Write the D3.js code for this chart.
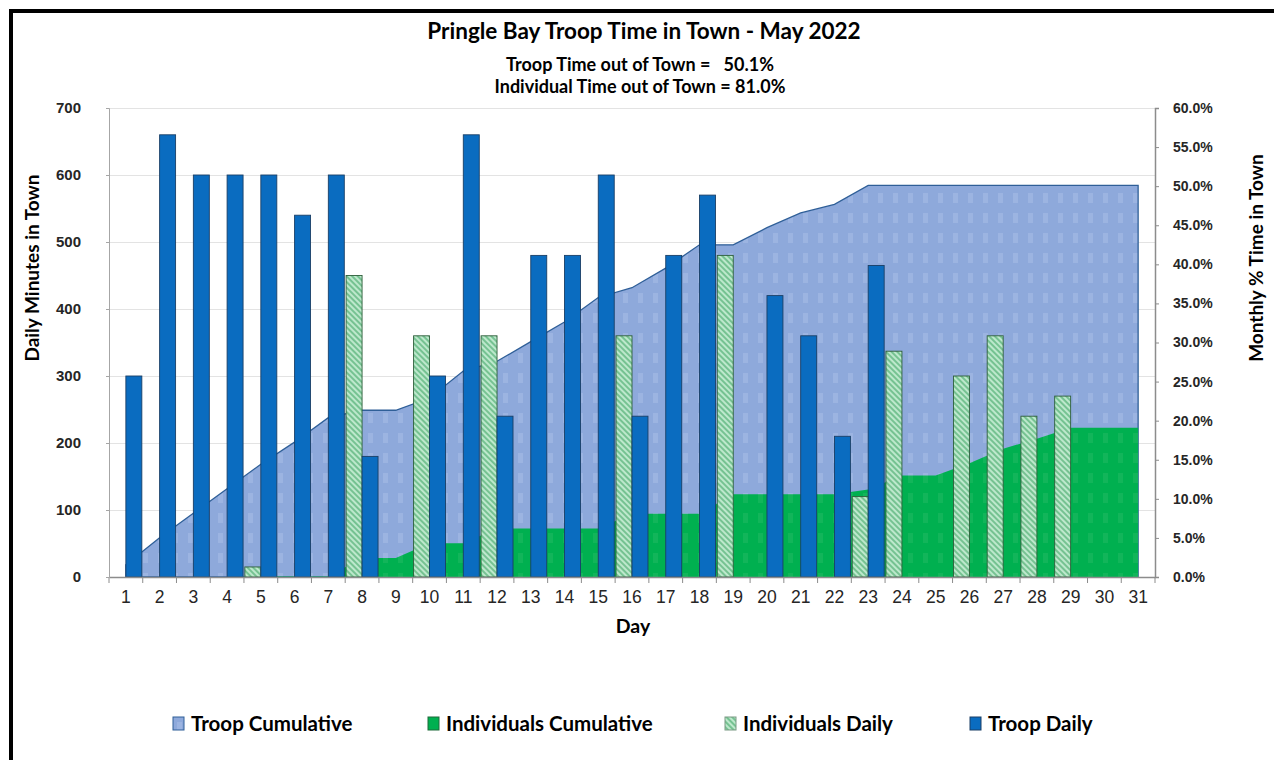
<!DOCTYPE html>
<html>
<head>
<meta charset="utf-8">
<script src="https://cdn.jsdelivr.net/npm/d3@7"></script>
<style>
  body { margin: 0; background: #fff; }
  svg { display: block; font-family: Lato, "Open Sans", sans-serif; }
</style>
</head>
<body>
<div id="chart"></div>
<script>
// values
var days = [1,2,3,4,5,6,7,8,9,10,11,12,13,14,15,16,17,18,19,20,21,22,23,24,25,26,27,28,29,30,31];
var troopDaily = [300,660,600,600,600,540,600,180,0,300,660,240,480,480,600,240,480,570,0,420,360,210,465,0,0,0,0,0,0,0,0];
var indivDaily = [0,0,0,0,15,0,0,450,0,360,0,360,0,0,0,360,0,0,480,0,0,0,120,337,0,300,360,240,270,0,0];
// cumulative, in % (secondary axis)
var troopCum = [1.57,5.02,8.15,11.29,14.43,17.25,20.39,21.33,21.33,22.90,26.35,27.60,30.11,32.62,35.76,37.01,39.52,42.50,42.50,44.69,46.58,47.67,50.10,50.10,50.10,50.10,50.10,50.10,50.10,50.10,50.10];
var indivCum = [0,0,0,0,0.08,0.08,0.08,2.43,2.43,4.31,4.31,6.19,6.19,6.19,6.19,8.08,8.08,8.08,10.59,10.59,10.59,10.59,11.21,12.97,12.97,14.54,16.42,17.68,19.09,19.09,19.09];
var leftTicks = [0,100,200,300,400,500,600,700];
var rightTicks = [0,5,10,15,20,25,30,35,40,45,50,55,60];

var W = 1274, H = 760;
var margin = {top: 108, right: 119, bottom: 183, left: 109},
    width = W - margin.left - margin.right,
    height = H - margin.top - margin.bottom;

var svg = d3.select("#chart").append("svg")
    .attr("width", W)
    .attr("height", H);

var defs = svg.append("defs");

// dotted fill of the troop cumulative area
var pBlue = defs.append("pattern").attr("id", "blueDots")
    .attr("patternUnits", "userSpaceOnUse").attr("width", 15).attr("height", 20);
pBlue.append("rect").attr("width", 15).attr("height", 20).attr("fill", "#8EA9DB");
pBlue.append("rect").attr("x", 4).attr("y", 5).attr("width", 5).attr("height", 10).attr("fill", "#9CB4E1");

var pGreen = defs.append("pattern").attr("id", "greenDots")
    .attr("patternUnits", "userSpaceOnUse").attr("width", 15).attr("height", 20);
pGreen.append("rect").attr("width", 15).attr("height", 20).attr("fill", "#00B050");
pGreen.append("rect").attr("x", 4).attr("y", 5).attr("width", 5).attr("height", 10).attr("fill", "#12B55A");

var pHatch = defs.append("pattern").attr("id", "hatch")
    .attr("patternUnits", "userSpaceOnUse").attr("width", 4).attr("height", 4)
    .attr("patternTransform", "rotate(-45)");
pHatch.append("rect").attr("width", 4).attr("height", 4).attr("fill", "#BDE8CC");
pHatch.append("line").attr("x1", 1).attr("y1", 0).attr("x2", 1).attr("y2", 4)
    .attr("stroke", "#4FAE72").attr("stroke-width", 1.3);

// black frame, top and left only
svg.append("path")
    .attr("d", "M11,760 V11 H1274")
    .attr("fill", "none")
    .attr("stroke", "#000")
    .attr("stroke-width", 4);

// titles
svg.append("text")
    .attr("x", 644).attr("y", 39)
    .attr("text-anchor", "middle")
    .style("font-size", "22.5px").style("font-weight", "bold")
    .text("Pringle Bay Troop Time in Town - May 2022");

svg.append("text")
    .attr("x", 640).attr("y", 71)
    .attr("text-anchor", "middle")
    .style("font-size", "18px").style("font-weight", "bold")
    .style("white-space", "pre")
    .text("Troop Time out of Town =   50.1%");

svg.append("text")
    .attr("x", 640).attr("y", 93)
    .attr("text-anchor", "middle")
    .style("font-size", "18px").style("font-weight", "bold")
    .text("Individual Time out of Town = 81.0%");

var g = svg.append("g")
    .attr("transform", "translate(" + margin.left + "," + margin.top + ")");

var x = d3.scaleBand()
    .domain(days)
    .range([0, width])
    .padding(0);

var xInner = d3.scaleBand()
    .domain(["indiv", "troop"])
    .range([0.9, x.bandwidth() - 0.9])
    .padding(0);

var y = d3.scaleLinear()
    .domain([0, 700])
    .range([height, 0]);

var y2 = d3.scaleLinear()
    .domain([0, 60])
    .range([height, 0]);

// gridlines
g.append("g")
    .selectAll("line")
    .data(leftTicks.slice(1))
    .join("line")
    .attr("x1", 0).attr("x2", width)
    .attr("y1", function(d) { return y(d) + 0.5; })
    .attr("y2", function(d) { return y(d) + 0.5; })
    .attr("stroke", "#E3E3E3")
    .attr("stroke-width", 1);

// cumulative areas on the % axis
var cumArea = d3.area()
    .x(function(d, i) { return x(days[i]) + x.bandwidth() / 2; })
    .y0(height)
    .y1(function(d) { return y2(d); });

g.append("path")
    .datum(troopCum)
    .attr("fill", "url(#blueDots)")
    .attr("stroke", "#2F5F98")
    .attr("stroke-width", 1.3)
    .attr("d", cumArea);

g.append("path")
    .datum(indivCum)
    .attr("fill", "url(#greenDots)")
    .attr("stroke", "none")
    .attr("d", cumArea);

// daily bars
g.append("g")
    .selectAll("rect")
    .data(indivDaily.map(function(v, i) { return {day: days[i], v: v}; }).filter(function(d) { return d.v > 0; }))
    .join("rect")
    .attr("x", function(d) { return x(d.day) + xInner("indiv"); })
    .attr("width", xInner.bandwidth())
    .attr("y", function(d) { return y(d.v); })
    .attr("height", function(d) { return height - y(d.v); })
    .attr("fill", "url(#hatch)")
    .attr("stroke", "#2E5E3A")
    .attr("stroke-width", 0.9);

g.append("g")
    .selectAll("rect")
    .data(troopDaily.map(function(v, i) { return {day: days[i], v: v}; }).filter(function(d) { return d.v > 0; }))
    .join("rect")
    .attr("x", function(d) { return x(d.day) + xInner("troop"); })
    .attr("width", xInner.bandwidth())
    .attr("y", function(d) { return y(d.v); })
    .attr("height", function(d) { return height - y(d.v); })
    .attr("fill", "#0A6CC0")
    .attr("stroke", "#1A3F66")
    .attr("stroke-width", 0.9);

// axes
var xAxis = g.append("g")
    .attr("transform", "translate(0," + height + ")")
    .call(d3.axisBottom(x).tickSize(0).tickPadding(14));
xAxis.select(".domain").attr("stroke", "#8C8C8C").attr("stroke-width", 1.5);
xAxis.selectAll("text").style("font-size", "17.5px").attr("fill", "#262626");
// tick marks sit on the band edges
xAxis.append("g")
    .selectAll("line")
    .data(days.concat([32]))
    .join("line")
    .attr("x1", function(d) { return d <= 31 ? x(d) : width; })
    .attr("x2", function(d) { return d <= 31 ? x(d) : width; })
    .attr("y1", 0).attr("y2", 6)
    .attr("stroke", "#8C8C8C");

var yAxis = g.append("g")
    .call(d3.axisLeft(y).tickValues(leftTicks).tickSize(3).tickPadding(25));
yAxis.select(".domain").attr("stroke", "#A6A6A6");
yAxis.selectAll(".tick line").attr("stroke", "#A6A6A6");
yAxis.selectAll("text").style("font-size", "15px").style("font-weight", "bold").attr("fill", "#262626");

var yAxis2 = g.append("g")
    .attr("transform", "translate(" + width + ",0)")
    .call(d3.axisRight(y2).tickValues(rightTicks).tickSize(4).tickPadding(14)
      .tickFormat(function(d) { return d.toFixed(1) + "%"; }));
yAxis2.select(".domain").attr("stroke", "#8C8C8C").attr("stroke-width", 1.5);
yAxis2.selectAll(".tick line").attr("stroke", "#8C8C8C");
yAxis2.selectAll("text").style("font-size", "14px").style("font-weight", "bold").attr("fill", "#262626");

// axis titles
svg.append("text")
    .attr("x", 633).attr("y", 633)
    .attr("text-anchor", "middle")
    .style("font-size", "19.5px").style("font-weight", "bold")
    .text("Day");

svg.append("text")
    .attr("transform", "translate(39,268) rotate(-90)")
    .attr("text-anchor", "middle")
    .style("font-size", "19px").style("font-weight", "bold")
    .text("Daily Minutes in Town");

svg.append("text")
    .attr("transform", "translate(1263,258) rotate(-90)")
    .attr("text-anchor", "middle")
    .style("font-size", "19px").style("font-weight", "bold")
    .text("Monthly % Time in Town");

// legend
var legendItems = [
  {label: "Troop Cumulative", x: 173, fill: "url(#blueDots)", stroke: "#2F5F98"},
  {label: "Individuals Cumulative", x: 428, fill: "#00B050", stroke: "#1E6B3A"},
  {label: "Individuals Daily", x: 725, fill: "url(#hatch)", stroke: "#7A9A84"},
  {label: "Troop Daily", x: 970, fill: "#0A6CC0", stroke: "#1A3F66"}
];

var legend = svg.append("g").selectAll("g")
    .data(legendItems)
    .join("g")
    .attr("transform", function(d) { return "translate(" + d.x + ",717)"; });

legend.append("rect")
    .attr("width", 11).attr("height", 13)
    .attr("fill", function(d) { return d.fill; })
    .attr("stroke", function(d) { return d.stroke; })
    .attr("stroke-width", 1);

legend.append("text")
    .attr("x", 18).attr("y", 14)
    .style("font-size", "20.5px").style("font-weight", "bold")
    .text(function(d) { return d.label; });
</script>
</body>
</html>
